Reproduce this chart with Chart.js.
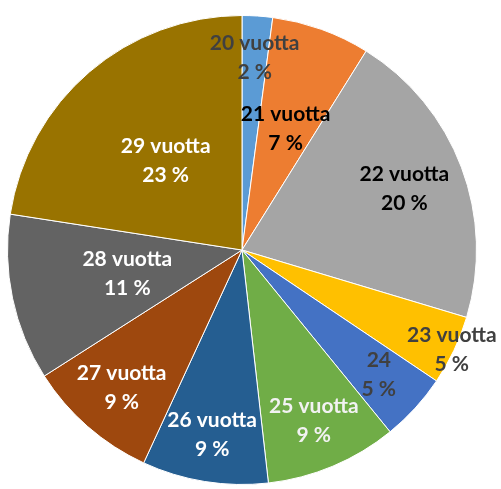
<!DOCTYPE html>
<html>
<head>
<meta charset="utf-8">
<script src="https://cdn.jsdelivr.net/npm/chart.js@4"></script>
<style>
  html, body { margin: 0; padding: 0; background: #fff; }
  #wrap { width: 501px; height: 489px; }
</style>
</head>
<body>
<div id="wrap"><canvas id="myChart" width="501" height="489"></canvas></div>
<script>
const labels = ['20 vuotta', '21 vuotta', '22 vuotta', '23 vuotta', '24', '25 vuotta', '26 vuotta', '27 vuotta', '28 vuotta', '29 vuotta'];
const shares = [2.1, 6.8, 20.8, 4.8, 4.7, 9.1, 8.7, 9.1, 11.5, 22.6];
const pctLabels = ['2 %', '7 %', '20 %', '5 %', '5 %', '9 %', '9 %', '9 %', '11 %', '23 %'];

const colors = ['#5B9BD5', '#ED7D31', '#A5A5A5', '#FFC000', '#4472C4', '#70AD47', '#255E91', '#9E480E', '#636363', '#997300'];
const textColors = ['#404040', '#000000', '#000000', '#404040', '#404040', '#F2F2F2', '#FFFFFF', '#FFFFFF', '#FFFFFF', '#FFFFFF'];
// how far out each label sits, as part of the radius
const labelRadius = [0.82, 0.55, 0.74, 0.99, 0.79, 0.79, 0.8, 0.78, 0.5, 0.5];

const sliceLabels = {
  id: 'sliceLabels',
  afterDatasetsDraw(chart) {
    const ctx = chart.ctx;
    const arcs = chart.getDatasetMeta(0).data;
    ctx.save();
    ctx.font = 'bold 21px Lato';
    ctx.textAlign = 'center';
    ctx.textBaseline = 'middle';
    arcs.forEach((arc, i) => {
      const mid = (arc.startAngle + arc.endAngle) / 2;
      const r = arc.outerRadius * labelRadius[i];
      const x = arc.x + Math.cos(mid) * r;
      const y = arc.y + Math.sin(mid) * r;
      ctx.fillStyle = textColors[i];
      ctx.fillText(labels[i], x, y - 14.5);
      ctx.fillText(pctLabels[i], x, y + 14.5);
    });
    ctx.restore();
  }
};

const config = {
  type: 'pie',
  data: {
    labels: labels,
    datasets: [{
      data: shares,
      backgroundColor: colors,
      borderColor: '#ffffff',
      borderWidth: 1
    }]
  },
  options: {
    responsive: false,
    animation: false,
    layout: { padding: { top: 15, bottom: 4, left: 7, right: 24 } },
    plugins: {
      legend: { display: false },
      tooltip: { enabled: false }
    }
  },
  plugins: [sliceLabels]
};

const myChart = new Chart(document.getElementById('myChart'), config);
</script>
</body>
</html>
